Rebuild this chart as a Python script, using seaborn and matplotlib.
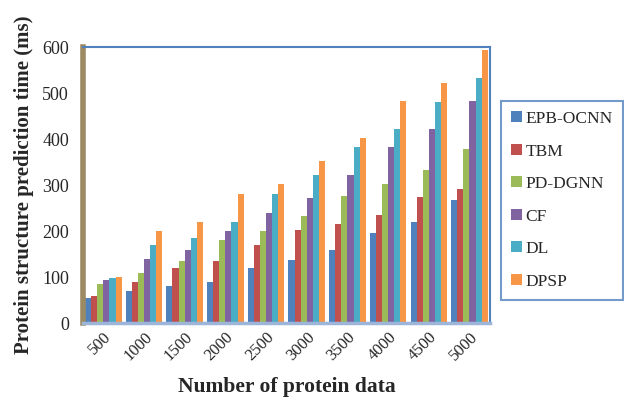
import matplotlib
matplotlib.use("Agg")
import matplotlib.pyplot as plt
import seaborn as sns
import pandas as pd

categories = ["500", "1000", "1500", "2000", "2500", "3000", "3500", "4000", "4500", "5000"]
methods = ["EPB-OCNN", "TBM", "PD-DGNN", "CF", "DL", "DPSP"]
epb_ocnn = [55, 70, 80, 90, 120, 137, 160, 195, 220, 267]
tbm = [60, 90, 120, 135, 170, 202, 215, 235, 275, 292]
pd_dgnn = [85, 110, 135, 180, 200, 232, 276, 302, 332, 378]
cf = [93, 140, 160, 200, 240, 272, 322, 382, 422, 484]
dl = [98, 170, 185, 220, 280, 322, 382, 422, 480, 534]
dpsp = [100, 200, 220, 280, 302, 352, 402, 482, 522, 594]
colors = ["#4F81BD", "#C0504D", "#9BBB59", "#8064A2", "#4BACC6", "#F79646"]

series = [epb_ocnn, tbm, pd_dgnn, cf, dl, dpsp]
rows = []
for m, vals in zip(methods, series):
    for c, v in zip(categories, vals):
        rows.append({"Number of protein data": c, "method": m, "value": v})
df = pd.DataFrame(rows)

sns.set_style("white")
plt.rcParams["font.family"] = ["Liberation Serif", "DejaVu Serif"]

fig = plt.figure(figsize=(6.24, 4.03), dpi=100)
ax = fig.add_axes([0.133, 0.198, 0.652, 0.685])
sns.barplot(data=df, x="Number of protein data", y="value", hue="method",
            order=categories, hue_order=methods, palette=colors,
            width=0.9, gap=0, ax=ax, legend=True, saturation=1,
            edgecolor="none")

ax.set_ylim(0, 600)
ax.set_xlim(-0.5, 9.5)
ax.set_yticks(range(0, 601, 100))
ax.tick_params(axis="y", labelsize=13, length=0, pad=10)
ax.tick_params(axis="x", labelsize=12, length=0, pad=4)
for lab in ax.get_xticklabels():
    lab.set_rotation(45)
    lab.set_ha("right")
    lab.set_rotation_mode("anchor")
ax.set_xlabel("Number of protein data", fontsize=15.5, fontweight="bold", labelpad=10)
ax.set_ylabel("Protein structure prediction time (ms)", fontsize=15, fontweight="bold", labelpad=6)

for side in ["top", "right"]:
    ax.spines[side].set_color("#4F81BD")
    ax.spines[side].set_linewidth(1.5)
ax.spines["bottom"].set_color("#9DB5D9")
ax.spines["bottom"].set_linewidth(2.5)
ax.spines["left"].set_color("#9C8A62")
ax.spines["left"].set_linewidth(4)

leg = ax.legend(loc="center left", bbox_to_anchor=(0.803, 0.503), bbox_transform=fig.transFigure,
                fontsize=12.5, frameon=True, fancybox=False, handlelength=0.6, handleheight=0.6,
                handletextpad=0.2, labelspacing=0.95, borderpad=0.6, borderaxespad=0, title=None)
leg.get_frame().set_edgecolor("#4F81BD")
leg.get_frame().set_linewidth(1.5)

fig.savefig("out.png", dpi=100)
